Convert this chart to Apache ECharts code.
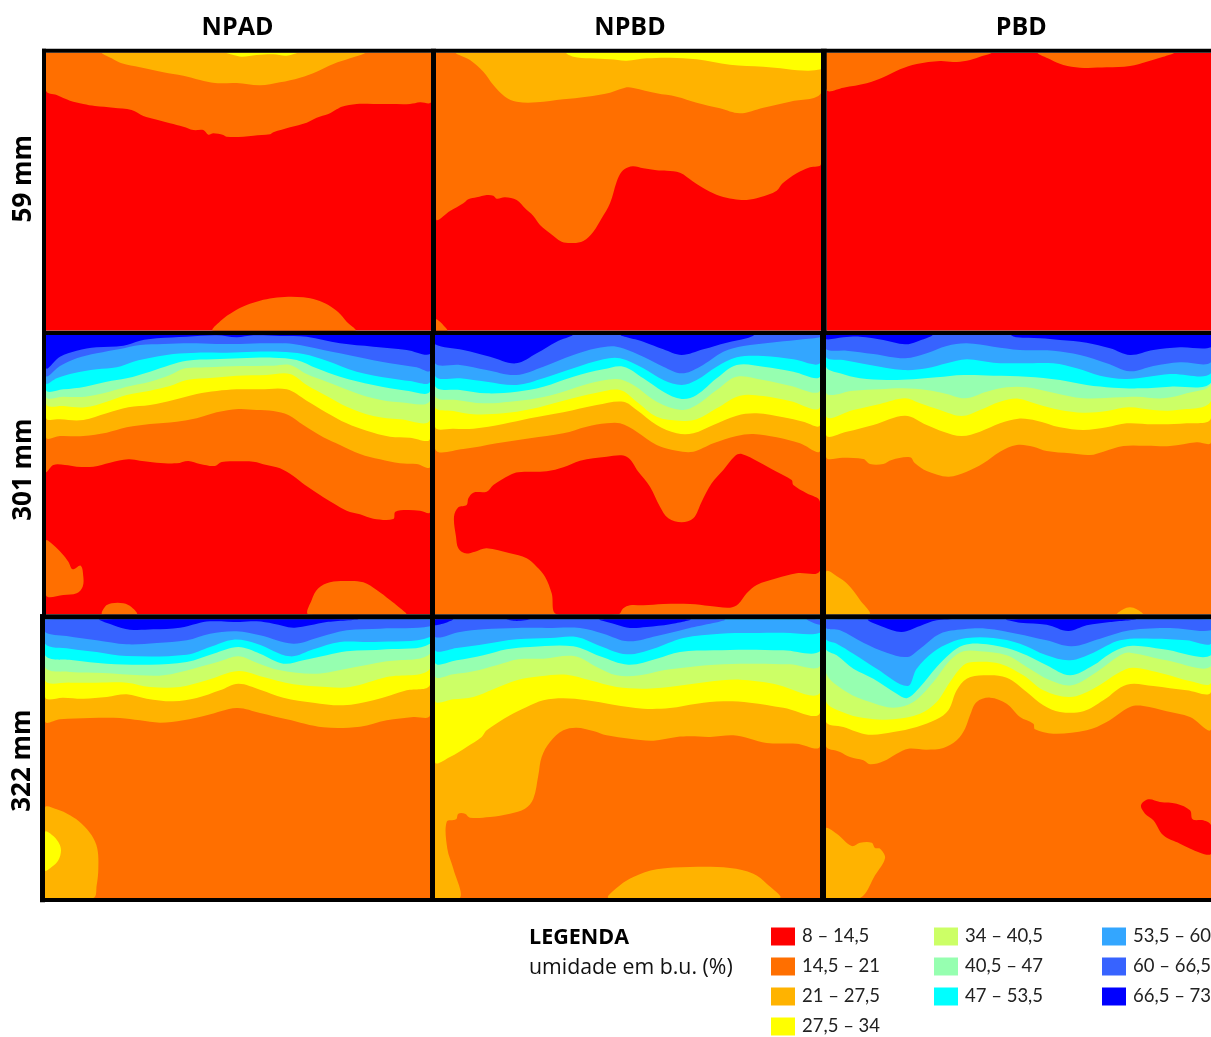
<!DOCTYPE html>
<html><head><meta charset="utf-8">
<style>html,body{margin:0;padding:0;background:#fff}#c{width:1211px;height:1037px}</style>
<script src="https://cdn.jsdelivr.net/npm/echarts@6/dist/echarts.min.js"></script>
</head><body><div id="c"></div>
<script>
const columnNames = ['NPAD', 'NPBD', 'PBD'];
const rowNames = ['59 mm', '301 mm', '322 mm'];
const bandNames = ['8 – 14,5','14,5 – 21','21 – 27,5','27,5 – 34','34 – 40,5','40,5 – 47','47 – 53,5','53,5 – 60','60 – 66,5','66,5 – 73'];
const bandColors = ['#ff0000','#ff6f00','#ffb300','#ffff00','#ccff66','#96ffb0','#00ffff','#33a6ff','#3763ff','#0000ff'];
const RED=0,ORANGE=1,AMBER=2,YELLOW=3,LIME=4,MINT=5,CYAN=6,SKY=7,ROYAL=8,BLUE=9;

// Each panel: base band, then [band, outline], lowest first. Outlines close along the top edge.
const p11 = {base:RED, layers:[
[ORANGE,[[520,872],[545,840],[580,815],[620,795],[660,782],[700,774],[745,770],[790,772],[830,780],[865,795],[895,817],[920,845],[945,872]]],
[ORANGE,[[18,152],[50,165],[90,182],[130,192],[165,198],[220,203],[275,210],[310,228],[345,238],[390,250],[430,260],[460,270],[490,270],[505,284],[520,280],[550,285],[560,290],[610,290],[640,287],[690,283],[700,277],[750,262],[800,248],[830,233],[865,222],[890,208],[905,200],[950,192],[1000,192],[1050,192],[1110,192],[1140,187],[1173,186]]],
[AMBER,[[188,38],[215,55],[245,70],[300,82],[370,97],[430,107],[480,120],[525,129],[590,129],[660,136],[720,127],[780,113],[830,95],[880,72],[930,55],[972,38]]],
[YELLOW,[[560,38],[580,45],[605,50],[650,45],[700,43],[740,47],[770,38]]]
]};
const p12 = {base:RED, layers:[
[ORANGE,[[18,838],[30,845],[42,858],[52,872],[18,872]]],
[ORANGE,[[18,537],[60,513],[100,490],[115,478],[140,472],[170,465],[190,467],[200,476],[225,472],[260,480],[285,505],[310,528],[330,555],[360,580],[395,605],[430,609],[460,603],[490,575],[515,535],[540,490],[560,425],[575,395],[595,382],[610,379],[640,385],[680,391],[710,392],[750,398],[790,425],[830,450],[870,468],[910,477],[950,480],[990,472],[1040,452],[1058,430],[1100,400],[1140,382],[1173,372]]],
[AMBER,[[80,38],[120,60],[160,95],[190,135],[225,170],[260,185],[320,187],[400,178],[470,170],[540,158],[590,142],[610,144],[680,160],[740,170],[800,188],[870,205],[930,220],[1000,203],[1080,185],[1173,160]]],
[YELLOW,[[410,38],[430,50],[480,55],[540,58],[590,62],[650,55],[720,53],[800,58],[900,74],[1000,80],[1173,88]]]
]};
const p13 = {base:RED, layers:[
[ORANGE,[[20,150],[70,143],[140,130],[190,112],[240,88],[290,72],[360,63],[400,66],[440,62],[480,50],[512,38]]],
[ORANGE,[[655,38],[690,58],[730,75],[780,83],[860,82],[930,78],[980,65],[1030,50],[1060,38]]]
]};
const p21 = {base:RED, layers:[
[ORANGE,[[18,425],[40,405],[75,405],[110,410],[160,410],[210,398],[265,388],[300,392],[350,398],[410,400],[445,393],[480,402],[525,408],[545,396],[590,394],[640,395],[680,405],[720,415],[760,438],[795,465],[840,495],[880,520],[920,542],[960,553],[1000,566],[1060,567],[1066,545],[1100,540],[1140,542],[1170,546]]],
[AMBER,[[18,322],[60,318],[130,318],[200,308],[260,292],[330,282],[410,275],[470,265],[530,247],[595,237],[650,240],[700,243],[745,255],[790,285],[850,322],[900,345],[960,372],[1020,388],[1080,400],[1130,402],[1170,410]]],
[YELLOW,[[18,263],[60,268],[130,270],[200,250],[265,232],[330,225],[400,210],[470,192],[530,183],[590,178],[660,178],[740,178],[800,212],[860,248],[920,280],[980,302],[1050,320],[1110,323],[1170,326]]],
[LIME,[[18,222],[70,228],[135,232],[200,215],[260,195],[330,182],[390,168],[440,150],[520,143],[590,137],[680,135],[750,132],[800,165],[860,198],[920,230],[1000,258],[1080,268],[1170,270]]],
[MINT,[[18,200],[70,200],[135,200],[190,190],[260,170],[330,155],[390,135],[435,115],[500,112],[600,108],[700,107],[750,105],[800,132],[860,155],[930,182],[1000,205],[1080,217],[1170,212]]],
[CYAN,[[18,180],[70,178],[135,170],[200,155],[260,145],[330,125],[390,105],[440,92],[520,88],[600,85],[700,83],[770,90],[830,115],[900,140],[1000,165],[1100,182],[1170,184]]],
[SKY,[[18,160],[50,145],[100,130],[170,118],[230,112],[280,95],[340,82],[400,72],[470,68],[560,68],[640,65],[720,65],[790,72],[860,92],[950,125],[1050,145],[1110,153],[1170,156]]],
[ROYAL,[[18,138],[60,108],[110,85],[170,70],[240,57],[300,45],[370,42],[450,40],[530,42],[600,42],[680,40],[760,42],[850,60],[950,80],[1050,100],[1130,112],[1170,122]]],
[BLUE,[[18,115],[60,80],[110,62],[170,52],[250,47],[300,32],[350,25],[440,20],[530,16],[590,22],[640,16],[720,18],[800,20],[900,40],[1000,50],[1100,60],[1170,72]]],
[ORANGE,[[18,632],[40,645],[65,670],[85,695],[98,718],[122,707],[130,740],[128,770],[110,790],[70,795],[18,796]]],
[ORANGE,[[187,853],[195,830],[215,820],[250,820],[275,832],[290,853]]],
[ORANGE,[[806,853],[815,810],[835,775],[870,757],[920,753],[970,757],[1010,780],[1050,810],[1075,830],[1097,853]]]
]};
const p22 = {base:ORANGE, layers:[
[RED,[[380,853],[365,790],[345,740],[320,710],[290,685],[240,670],[170,655],[135,665],[105,670],[85,655],[78,620],[72,560],[85,532],[110,525],[115,505],[130,488],[170,485],[190,465],[240,435],[265,427],[350,424],[400,412],[450,392],[530,380],[590,380],[625,425],[660,470],[690,530],[715,565],[755,577],[790,565],[815,515],[845,460],[880,420],[915,378],[935,372],[985,395],[1040,425],[1085,450],[1090,465],[1130,490],[1170,515],[1170,722],[1100,730],[1040,745],[980,765],[950,790],[925,822],[900,833],[840,828],[780,822],[700,822],[640,826],[600,826],[580,835],[565,853]]],
[AMBER,[[15,356],[100,357],[200,340],[300,325],[400,310],[470,290],[530,280],[570,280],[620,305],[680,345],[740,362],[790,365],[850,340],[920,318],[970,312],[1040,322],[1110,340],[1170,362]]],
[YELLOW,[[15,290],[70,296],[130,296],[220,282],[300,265],[400,247],[500,225],[580,215],[620,240],[680,285],[740,310],[790,310],[850,285],[920,257],[980,250],[1060,262],[1120,275],[1170,285]]],
[LIME,[[15,230],[70,243],[130,253],[220,250],[300,238],[400,212],[500,188],[570,180],[620,215],[680,260],[750,272],[800,268],[860,235],[930,197],[1000,198],[1080,213],[1170,232]]],
[MINT,[[15,197],[80,210],[160,220],[240,215],[320,205],[400,185],[480,160],[560,147],[610,165],[680,215],[755,240],[800,225],[860,180],[920,140],[1000,150],[1080,167],[1170,182]]],
[CYAN,[[15,168],[90,180],[170,190],[260,185],[340,170],[430,140],[520,118],[580,110],[640,145],[700,185],[755,207],[800,195],[860,145],[920,105],[1000,110],[1090,125],[1170,140]]],
[SKY,[[15,138],[90,145],[170,155],[260,165],[340,145],[430,115],[520,88],[570,85],[640,115],[700,150],[755,165],[800,150],[860,110],[920,82],[1000,78],[1090,88],[1170,100]]],
[ROYAL,[[15,100],[90,105],[170,120],[258,135],[340,110],[430,75],[500,55],[560,50],[640,80],[700,110],[755,130],[810,110],[880,65],[940,48],[1020,38],[1100,30],[1170,22]]],
[BLUE,[[15,43],[100,60],[180,80],[258,100],[320,70],[380,35],[425,15]]],
[BLUE,[[575,15],[640,35],[700,58],[755,75],[820,58],[890,38],[950,25],[970,15]]]
]};
const p23 = {base:ORANGE, layers:[
[AMBER,[[18,725],[60,745],[90,770],[120,810],[148,853],[18,853]]],
[AMBER,[[892,853],[910,838],[930,832],[950,838],[968,853]]],
[AMBER,[[18,380],[70,383],[130,387],[150,402],[190,402],[215,390],[270,382],[285,400],[320,423],[385,440],[440,425],[490,400],[540,365],[590,345],[640,350],[680,363],[750,370],[810,375],[850,365],[910,348],[980,347],[1050,348],[1130,337],[1173,337]]],
[YELLOW,[[18,314],[80,305],[160,285],[255,257],[320,285],[370,305],[425,318],[480,305],[540,280],[595,266],[650,272],[720,292],[790,300],[860,292],[920,280],[1000,283],[1100,280],[1173,265]]],
[LIME,[[18,258],[100,240],[180,222],[255,205],[300,220],[360,240],[425,258],[480,240],[540,215],[595,206],[650,222],[720,240],[790,248],[860,243],[925,232],[1000,240],[1070,240],[1173,213]]],
[MINT,[[18,188],[100,182],[180,178],[250,175],[320,180],[380,192],[435,205],[500,185],[560,172],[620,172],[700,188],[790,205],[900,202],[950,200],[1030,205],[1100,190],[1173,162]]],
[CYAN,[[18,110],[60,130],[120,145],[200,150],[280,148],[350,142],[430,135],[520,137],[620,140],[720,150],[800,165],[880,173],[960,175],[1050,170],[1173,158]]],
[SKY,[[18,82],[70,90],[150,105],[250,120],[320,115],[380,100],[440,88],[520,98],[600,100],[700,100],[770,115],[840,137],[920,147],[1050,132],[1173,130]]],
[ROYAL,[[18,57],[80,62],[160,72],[255,85],[320,70],[380,48],[440,40],[520,50],[600,60],[700,62],[780,75],[860,100],[930,124],[1000,108],[1080,97],[1173,97]]],
[BLUE,[[18,28],[70,22],[120,20],[190,30],[255,43],[290,35],[335,15]]],
[BLUE,[[575,15],[590,22],[660,25],[720,30],[800,38],[870,55],[930,75],[1000,60],[1080,52],[1173,52]]]
]};
const p31 = {base:ORANGE, layers:[
[AMBER,[[15,587],[50,592],[90,610],[125,635],[155,670],[172,710],[175,770],[170,820],[160,858],[15,858]]],
[YELLOW,[[15,660],[35,668],[55,690],[63,715],[55,745],[35,765],[15,775]]],
[AMBER,[[15,328],[60,322],[150,318],[240,318],[300,325],[360,332],[430,325],[500,310],[590,288],[660,303],[740,322],[850,346],[960,344],[1040,325],[1120,315],[1170,310]]],
[YELLOW,[[15,255],[70,257],[130,260],[200,255],[260,247],[320,260],[400,268],[470,258],[540,235],[595,215],[660,233],[730,257],[820,272],[910,280],[1000,265],[1100,235],[1170,218]]],
[LIME,[[15,205],[90,212],[170,212],[260,212],[330,225],[420,225],[500,205],[595,177],[670,195],[760,217],[860,225],[930,225],[1040,195],[1170,170]]],
[MINT,[[15,165],[90,180],[190,183],[300,190],[370,190],[460,170],[540,148],[595,133],[650,152],[720,175],[830,185],[920,170],[1040,148],[1170,125]]],
[CYAN,[[15,130],[100,145],[200,155],[330,158],[440,150],[520,125],[595,105],[660,125],[730,155],[790,145],[860,130],[920,118],[1040,112],[1170,95]]],
[SKY,[[15,95],[90,110],[170,120],[260,132],[440,128],[510,105],[580,83],[650,95],[750,133],[820,112],[900,90],[1000,90],[1170,75]]],
[ROYAL,[[15,60],[80,72],[170,85],[260,97],[350,93],[440,85],[510,65],[590,58],[660,70],[760,95],[840,75],[920,55],[1020,50],[1170,43]]],
[BLUE,[[180,22],[220,40],[270,53],[340,52],[420,47],[470,35],[510,28],[600,30],[650,28],[700,35],[760,47],[810,40],[860,30],[950,22]]]
]};
const p32 = {base:ORANGE, layers:[
[AMBER,[[15,858],[90,858],[70,770],[52,710],[50,630],[78,622],[85,605],[105,605],[120,617],[180,615],[240,605],[285,590],[310,560],[325,490],[335,435],[360,390],[400,355],[440,347],[490,357],[530,370],[600,380],[670,386],[740,375],[780,373],[840,375],[910,370],[960,380],[1010,393],[1100,395],[1170,402]]],
[AMBER,[[537,858],[570,820],[610,795],[680,772],[780,765],[900,768],[970,785],[1010,815],[1048,858]]],
[YELLOW,[[15,450],[60,435],[110,405],[155,375],[170,355],[240,310],[290,285],[340,265],[400,259],[470,265],[550,278],[640,290],[720,288],[800,275],[880,268],[960,272],[1060,287],[1170,303]]],
[LIME,[[15,266],[70,262],[130,255],[190,232],[260,205],[330,193],[410,188],[480,205],[560,225],[650,230],[740,222],[830,210],[930,203],[1030,215],[1170,243]]],
[MINT,[[15,193],[70,187],[130,178],[200,160],[265,142],[340,140],[435,133],[500,165],[560,190],[630,190],[700,175],[780,165],[880,157],[980,155],[1080,157],[1170,162]]],
[CYAN,[[15,153],[80,145],[160,130],[230,112],[300,105],[430,103],[510,133],[595,158],[680,140],[750,120],[850,115],[950,113],[1060,115],[1170,118]]],
[SKY,[[15,115],[80,108],[170,95],[260,82],[360,78],[440,75],[510,102],[590,127],[670,110],[760,78],[870,65],[960,63],[1060,62],[1170,62]]],
[ROYAL,[[15,75],[90,60],[160,52],[260,48],[350,48],[450,48],[520,65],[595,88],[680,72],[770,50],[880,22]]],
[ROYAL,[[1130,22],[1170,38],[1170,22]]],
[BLUE,[[15,22],[70,22],[15,40]]],
[BLUE,[[230,22],[260,27],[300,22]]],
[BLUE,[[510,22],[560,38],[600,48],[650,45],[720,37],[780,22]]]
]};
const p33 = {base:ORANGE, layers:[
[RED,[[963,580],[985,562],[1020,570],[1070,575],[1110,595],[1118,622],[1150,625],[1173,640],[1173,725],[1140,722],[1080,695],[1030,670],[1000,625],[975,605]]],
[AMBER,[[17,650],[50,665],[95,702],[120,692],[155,692],[165,708],[180,710],[195,738],[165,790],[120,858],[17,858]]],
[AMBER,[[17,400],[60,420],[90,435],[130,445],[150,457],[190,448],[230,425],[265,410],[320,413],[370,408],[410,385],[435,350],[450,310],[470,270],[510,257],[560,275],[600,315],[640,335],[645,352],[700,365],[800,355],[860,330],[930,285],[970,282],[1040,298],[1110,315],[1173,352]]],
[YELLOW,[[17,327],[70,345],[145,368],[220,360],[290,345],[350,322],[385,295],[410,235],[440,200],[490,190],[560,197],[620,240],[670,280],[720,300],[790,298],[850,265],[920,218],[1000,222],[1100,235],[1173,240]]],
[LIME,[[17,265],[80,305],[150,320],[220,322],[300,305],[350,270],[390,210],[430,160],[460,150],[540,155],[610,190],[670,235],[750,255],[820,230],[900,180],[940,167],[1030,185],[1110,207],[1173,212]]],
[MINT,[[17,180],[80,240],[150,270],[220,287],[280,270],[340,210],[390,145],[430,118],[480,118],[560,130],[620,165],[690,205],[755,220],[830,180],[900,130],[930,122],[1040,145],[1173,163]]],
[CYAN,[[17,110],[50,130],[100,170],[160,200],[230,245],[262,258],[300,225],[350,165],[390,125],[430,100],[480,95],[560,108],[620,130],[680,160],[750,190],[820,160],[870,125],[930,102],[1030,112],[1173,130]]],
[SKY,[[17,80],[50,95],[100,125],[170,170],[262,222],[290,170],[340,120],[390,92],[440,78],[520,78],[600,95],[680,130],[750,145],[820,122],[900,85],[1000,80],[1100,85],[1173,95]]],
[ROYAL,[[17,48],[60,55],[130,92],[200,122],[262,135],[300,110],[360,65],[430,52],[500,50],[590,65],[680,85],[755,103],[840,80],[930,55],[1050,48],[1173,55]]],
[BLUE,[[145,22],[190,45],[245,60],[300,42],[350,25],[415,22]]],
[BLUE,[[560,22],[600,32],[680,38],[745,57],[800,40],[870,30],[945,22]]]
]};
const panels = [p11,p12,p13,p21,p22,p23,p31,p32,p33];
// scan-unit extents of each panel: xmin,xmax,ymin,ymax
const extents = [[18,1173,38,872],[18,1173,38,872],[20,1173,38,872],[18,1170,15,853],[15,1170,15,853],[18,1173,15,853],[15,1170,22,858],[15,1170,22,858],[17,1173,22,858]];
// panel rectangles on the page: left,top,right,bottom
const rects = [[46,52.7,431,330.7],[436,52.7,821,330.7],[826.7,52.7,1211,330.7],[46,335,430,614.3],[435,335,820,614.3],[826,335,1211,614.3],[45,619.3,430,898],[435,619.3,820,898],[825.7,619.3,1211,898]];
// text nudges: [right,left] padding for column titles, [left,right] for row titles
const columnPad = [[0,2,0,0],[0,0,0,3],[0,0,0,5]];
const rowPad = [[0,0,0,26],[0,0,0,10],[0,4,0,0]];

const fontBold = '"Open Sans"';
const grid=[],xAxis=[],yAxis=[],series=[];
function addLayer(i,band,outline){
  series.push({type:'custom',name:bandNames[band],xAxisIndex:i,yAxisIndex:i,coordinateSystem:'cartesian2d',
    clip:true,silent:true,animation:false,itemStyle:{color:bandColors[band]},
    encode:{x:0,y:1},data:outline,
    renderItem:(params,api)=>{
      if(params.dataIndex!==0) return null;
      return {type:'polygon',shape:{points:outline.map(p=>api.coord(p)),smooth:0.35},style:{fill:bandColors[band]}};
    }});
}
panels.forEach((p,i)=>{
  const r=rects[i],ex=extents[i],col=i%3,row=Math.floor(i/3);
  const [x0,x1,y0,y1]=ex;
  grid.push({left:r[0],top:r[1],width:r[2]-r[0],height:r[3]-r[1],show:false});
  xAxis.push({type:'value',gridIndex:i,min:x0,max:x1,position:'top',
    axisLine:{show:false},axisTick:{show:false},axisLabel:{show:false},splitLine:{show:false},
    name:row===0?columnNames[col]:'',nameLocation:'middle',nameGap:12,
    nameTextStyle:{fontFamily:fontBold,fontWeight:'bold',fontSize:25,color:'#000',verticalAlign:'bottom',padding:columnPad[col]}});
  yAxis.push({type:'value',gridIndex:i,min:y0,max:y1,inverse:true,
    axisLine:{show:false},axisTick:{show:false},axisLabel:{show:false},splitLine:{show:false},
    name:col===0?rowNames[row]:'',nameLocation:'middle',nameGap:9,nameRotate:90,
    nameTextStyle:{fontFamily:fontBold,fontWeight:'bold',fontSize:26,color:'#000',padding:rowPad[row]}});
  series.push({type:'custom',name:bandNames[p.base],xAxisIndex:i,yAxisIndex:i,coordinateSystem:'cartesian2d',
    clip:true,silent:true,animation:false,itemStyle:{color:bandColors[p.base]},encode:{x:0,y:1},
    data:[[x0,y0],[x1,y0],[x1,y1],[x0,y1]],
    renderItem:(params,api)=>{
      if(params.dataIndex!==0) return null;
      return {type:'polygon',shape:{points:[[x0,y0],[x1,y0],[x1,y1],[x0,y1]].map(q=>api.coord(q))},style:{fill:bandColors[p.base]}};
    }});
  p.layers.forEach(l=>{
    const pts=l[1], first=pts[0], last=pts[pts.length-1];
    let o=pts;
    if(first[0]===x0 && last[0]===x1) o=pts.concat([[x1,y0],[x0,y0]]);
    else if(last[0]===x1 && first[1]===y0) o=pts.concat([[x1,y0]]);
    else if(first[0]===x0 && last[1]===y0) o=pts.concat([[x0,y0]]);
    addLayer(i,l[0],o);
  });
});

const frame = (x,y,w,h)=>({type:'rect',shape:{x,y,width:w,height:h},style:{fill:'#000'},z:100,silent:true});
const legendCol = (names,left)=>({orient:'vertical',left,top:927,height:109,itemWidth:24,itemHeight:18,itemGap:11,icon:'rect',
  data:names,selectedMode:false,padding:0,
  textStyle:{fontFamily:'Lato',fontSize:18.5,color:'#222',lineHeight:18,height:18,padding:[0,0,0,2]}});

const option={
  backgroundColor:'#fff',animation:false,
  grid,xAxis,yAxis,series,
  title:[{text:'LEGENDA',left:529,top:927,padding:0,textStyle:{fontFamily:fontBold,fontWeight:'bold',fontSize:21.5,color:'#000'}},
         {text:'umidade em b.u. (%)',left:529,top:957,padding:0,textStyle:{fontFamily:'"Open Sans"',fontWeight:'normal',fontSize:21.3,color:'#111'}}],
  legend:[legendCol(bandNames.slice(0,4),771),legendCol(bandNames.slice(4,7),934),legendCol(bandNames.slice(7,10),1102)],
  graphic:[
    frame(42,48.7,1169,4),frame(42,330.7,1169,4.3),frame(40,614.3,1171,5),frame(40,898,1171,4),
    frame(42,48.7,4,286),frame(42,335,4,280),frame(40,614.3,5,288),
    frame(431,48.7,5,284),frame(821,48.7,5.7,284),
    frame(430,333,5,567),frame(820,333,6,567)
  ]
};
const chart=echarts.init(document.getElementById('c'),null,{renderer:'canvas',width:1211,height:1037});
chart.setOption(option);
</script></body></html>
